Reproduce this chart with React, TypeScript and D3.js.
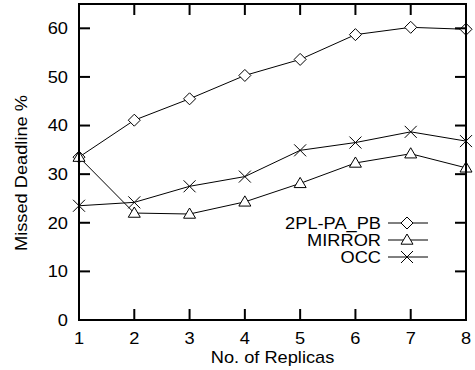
import React from "react";
import * as d3 from "d3";

const replicas = [1, 2, 3, 4, 5, 6, 7, 8];
const pl2 = [33.5, 41.1, 45.5, 50.3, 53.6, 58.7, 60.2, 59.8];
const mirror = [33.5, 22.0, 21.8, 24.3, 28.1, 32.3, 34.2, 31.3];
const occ = [23.5, 24.2, 27.5, 29.5, 34.9, 36.5, 38.7, 36.8];
const yTicks = [0, 10, 20, 30, 40, 50, 60];
const seriesNames = ["2PL-PA_PB", "MIRROR", "OCC"];

const L = 79, R = 466, T = 4, B = 320;
const FONT = "'Liberation Sans', Arial, Helvetica, sans-serif";
const SX = 1.14;

function T2({ x, y, anchor, rot, dy, children }: { x: number; y: number; anchor: string; rot?: boolean; dy?: string; children: any }) {
  const tr = rot ? `translate(${x},${y}) rotate(-90) scale(${SX},1)` : `translate(${x},${y}) scale(${SX},1)`;
  return (
    <text transform={tr} textAnchor={anchor} dy={dy} fontSize={16}>{children}</text>
  );
}

function Marker({ kind, x, y }: { kind: string; x: number; y: number }) {
  if (kind === "diamond") {
    const s = 6;
    return <path d={`M${x},${y - s}L${x + s},${y}L${x},${y + s}L${x - s},${y}Z`} fill="white" stroke="#000" strokeWidth={1} />;
  }
  if (kind === "triangle") {
    const s = 6;
    return <path d={`M${x},${y - s}L${x + s},${y + s * 0.7}L${x - s},${y + s * 0.7}Z`} fill="white" stroke="#000" strokeWidth={1} />;
  }
  const s = 6;
  return <path d={`M${x - s},${y - s}L${x + s},${y + s}M${x - s},${y + s}L${x + s},${y - s}`} stroke="#000" strokeWidth={1} />;
}

export default function App() {
  const x = d3.scaleLinear().domain([1, 8]).range([L, R]);
  const y = d3.scaleLinear().domain([0, 65]).range([B, T]);
  const line = d3.line<number>().x((_, i) => x(replicas[i])).y((d) => y(d));
  const series = [
    { name: seriesNames[0], vals: pl2, kind: "diamond" },
    { name: seriesNames[1], vals: mirror, kind: "triangle" },
    { name: seriesNames[2], vals: occ, kind: "cross" },
  ];
  const tick = 11;
  return (
    <svg width={475} height={370} style={{ position: "absolute", left: 0, top: 0, background: "white" }} fontFamily={FONT}>
      <rect x={0} y={0} width={475} height={370} fill="white" />
      {series.map((s) => (
        <g key={s.name}>
          <path d={line(s.vals) || ""} fill="none" stroke="#000" strokeWidth={1} />
          {s.vals.map((v, i) => (
            <Marker key={i} kind={s.kind} x={x(replicas[i])} y={y(v)} />
          ))}
        </g>
      ))}
      {yTicks.map((t) => (
        <g key={t}>
          <line x1={L} x2={L + tick} y1={y(t)} y2={y(t)} stroke="#000" strokeWidth={2} />
          <line x1={R} x2={R - tick} y1={y(t)} y2={y(t)} stroke="#000" strokeWidth={2} />
          <T2 x={68} y={y(t)} dy="0.36em" anchor="end">{t}</T2>
        </g>
      ))}
      {replicas.map((t) => (
        <g key={t}>
          <line x1={x(t)} x2={x(t)} y1={B} y2={B - tick} stroke="#000" strokeWidth={2} />
          <line x1={x(t)} x2={x(t)} y1={T} y2={T + tick} stroke="#000" strokeWidth={2} />
          <T2 x={x(t)} y={344} anchor="middle">{t}</T2>
        </g>
      ))}
      <rect x={L} y={T} width={R - L} height={B - T} fill="none" stroke="#000" strokeWidth={2} />
      <T2 x={(L + R) / 2} y={363} anchor="middle">No. of Replicas</T2>
      <T2 x={27} y={173} anchor="middle" rot>Missed Deadline %</T2>
      {series.map((s, i) => {
        const ly = 223 + i * 17;
        return (
          <g key={s.name}>
            <T2 x={381} y={ly} dy="0.36em" anchor="end">{s.name}</T2>
            <line x1={388} x2={428} y1={ly} y2={ly} stroke="#000" strokeWidth={1} />
            <Marker kind={s.kind} x={407} y={ly} />
          </g>
        );
      })}
    </svg>
  );
}
